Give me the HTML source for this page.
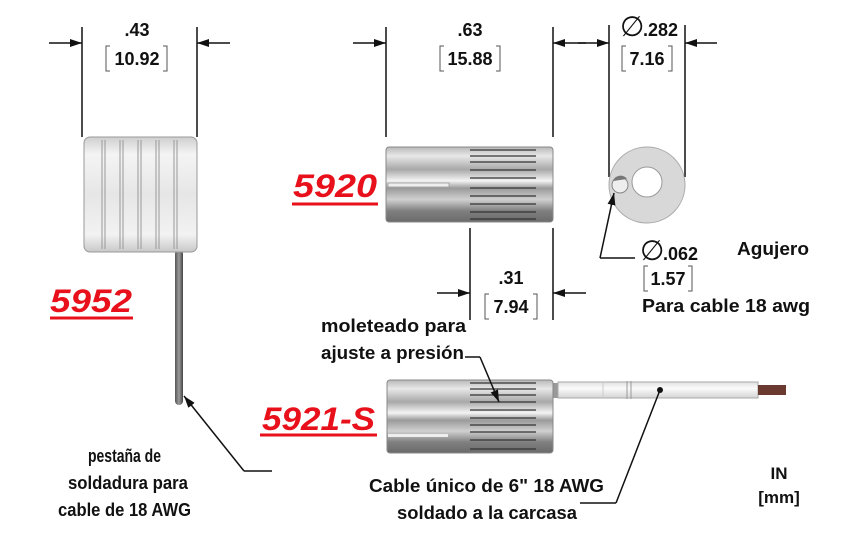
<!DOCTYPE html>
<html><head><meta charset="utf-8"><style>
html,body{margin:0;padding:0;background:#fff;}
svg{display:block;}
text{font-family:"Liberation Sans",sans-serif;font-weight:bold;fill:#111;}
.red{fill:#e8101a;font-style:italic;font-size:32px;}
</style></head><body>
<svg width="842" height="538" viewBox="0 0 842 538" xmlns="http://www.w3.org/2000/svg">
<defs>
<marker id="ar" markerWidth="12" markerHeight="8" refX="12" refY="4" orient="auto" markerUnits="userSpaceOnUse"><path d="M0,0 L12,4 L0,8 z" fill="#111"/></marker>
<linearGradient id="rib" x1="0" y1="0" x2="0" y2="1">
<stop offset="0" stop-color="#cfcfcf"/><stop offset="0.15" stop-color="#f4f4f4"/><stop offset="0.5" stop-color="#e6e6e6"/><stop offset="0.85" stop-color="#f2f2f2"/><stop offset="1" stop-color="#c8c8c8"/></linearGradient>
<linearGradient id="cyl" x1="0" y1="0" x2="0" y2="1">
<stop offset="0" stop-color="#b8b8b8"/><stop offset="0.12" stop-color="#e8e8e8"/><stop offset="0.3" stop-color="#a8a8a8"/><stop offset="0.45" stop-color="#f4f4f4"/><stop offset="0.55" stop-color="#9a9a9a"/><stop offset="0.7" stop-color="#d0d0d0"/><stop offset="0.85" stop-color="#808080"/><stop offset="1" stop-color="#6a6a6a"/></linearGradient>
<linearGradient id="wire" x1="0" y1="0" x2="0" y2="1">
<stop offset="0" stop-color="#e0e0e0"/><stop offset="0.4" stop-color="#fbfbfb"/><stop offset="1" stop-color="#d4d4d4"/></linearGradient>
<linearGradient id="tab" x1="0" y1="0" x2="1" y2="0">
<stop offset="0" stop-color="#555"/><stop offset="0.5" stop-color="#9a9a9a"/><stop offset="1" stop-color="#444"/></linearGradient>
</defs>

<!-- 5952 dims -->
<line x1="82" y1="27" x2="82" y2="137" stroke="#111" stroke-width="1.5"/>
<line x1="197" y1="27" x2="197" y2="137" stroke="#111" stroke-width="1.5"/>
<line x1="49" y1="43" x2="82" y2="43" stroke="#111" stroke-width="1.5" marker-end="url(#ar)"/>
<line x1="230" y1="43" x2="197" y2="43" stroke="#111" stroke-width="1.5" marker-end="url(#ar)"/>
<text x="137" y="36" font-size="18" text-anchor="middle">.43</text>
<text x="137" y="65" font-size="18" text-anchor="middle">10.92</text>
<path d="M110,46 h-4 v25 h4 M163,46 h4 v25 h-4" fill="none" stroke="#555" stroke-width="1"/>

<!-- 5952 body -->
<rect x="175" y="250" width="8" height="155" rx="4" fill="url(#tab)"/>
<g stroke="#999" stroke-width="1">
<rect x="84" y="137" width="113" height="115" rx="6" fill="url(#rib)"/>
<line x1="102" y1="140" x2="102" y2="249"/><line x1="105" y1="140" x2="105" y2="249"/>
<line x1="120" y1="140" x2="120" y2="249"/><line x1="123" y1="140" x2="123" y2="249"/>
<line x1="138" y1="140" x2="138" y2="249"/><line x1="141" y1="140" x2="141" y2="249"/>
<line x1="156" y1="140" x2="156" y2="249"/><line x1="159" y1="140" x2="159" y2="249"/>
<line x1="174" y1="140" x2="174" y2="249"/><line x1="177" y1="140" x2="177" y2="249"/>
</g>
<text class="red" x="50" y="312" textLength="82" lengthAdjust="spacingAndGlyphs">5952</text>
<line x1="50" y1="318" x2="133" y2="318" stroke="#e8101a" stroke-width="3"/>
<line x1="272" y1="471" x2="244" y2="471" stroke="#111" stroke-width="1.5"/>
<line x1="244" y1="471" x2="184" y2="396" stroke="#111" stroke-width="1.5" marker-end="url(#ar)"/>
<text x="88" y="462" font-size="18" textLength="73" lengthAdjust="spacingAndGlyphs">pestaña de</text>
<text x="68" y="489" font-size="18" textLength="120" lengthAdjust="spacingAndGlyphs">soldadura para</text>
<text x="58" y="516" font-size="18" textLength="133" lengthAdjust="spacingAndGlyphs">cable de 18 AWG</text>

<!-- 5920 -->
<line x1="386" y1="27" x2="386" y2="137" stroke="#111" stroke-width="1.5"/>
<line x1="553" y1="27" x2="553" y2="137" stroke="#111" stroke-width="1.5"/>
<line x1="353" y1="43" x2="386" y2="43" stroke="#111" stroke-width="1.5" marker-end="url(#ar)"/>
<line x1="586" y1="43" x2="553" y2="43" stroke="#111" stroke-width="1.5" marker-end="url(#ar)"/>
<text x="470" y="36" font-size="18" text-anchor="middle">.63</text>
<text x="470" y="65" font-size="18" text-anchor="middle">15.88</text>
<path d="M444,46 h-4 v25 h4 M496,46 h4 v25 h-4" fill="none" stroke="#555" stroke-width="1"/>
<rect x="386" y="147" width="167" height="75" rx="3" fill="url(#cyl)" stroke="#888"/>
<g stroke="#333" stroke-width="1.3">
<line x1="470" y1="150" x2="536" y2="150"/><line x1="470" y1="156" x2="536" y2="156"/><line x1="470" y1="162" x2="536" y2="162"/><line x1="470" y1="170" x2="536" y2="170"/><line x1="470" y1="178" x2="536" y2="178"/><line x1="470" y1="188" x2="536" y2="188"/><line x1="470" y1="196" x2="536" y2="196"/><line x1="470" y1="204" x2="536" y2="204"/><line x1="470" y1="212" x2="536" y2="212"/><line x1="470" y1="219" x2="536" y2="219"/>
</g>
<rect x="388" y="183" width="61" height="4" fill="#eee" stroke="#999" stroke-width="0.8"/>
<text class="red" x="293" y="197" textLength="84" lengthAdjust="spacingAndGlyphs">5920</text>
<line x1="292" y1="204" x2="378" y2="204" stroke="#e8101a" stroke-width="3"/>
<line x1="470" y1="228" x2="470" y2="320" stroke="#111" stroke-width="1.5"/>
<line x1="553" y1="228" x2="553" y2="320" stroke="#111" stroke-width="1.5"/>
<line x1="437" y1="293" x2="470" y2="293" stroke="#111" stroke-width="1.5" marker-end="url(#ar)"/>
<line x1="586" y1="293" x2="553" y2="293" stroke="#111" stroke-width="1.5" marker-end="url(#ar)"/>
<text x="511" y="284" font-size="18" text-anchor="middle">.31</text>
<text x="511" y="313" font-size="18" text-anchor="middle">7.94</text>
<path d="M489,294 h-4 v25 h4 M533,294 h4 v25 h-4" fill="none" stroke="#555" stroke-width="1"/>

<!-- washer -->
<line x1="609" y1="25" x2="609" y2="177" stroke="#111" stroke-width="1.5"/>
<line x1="685" y1="25" x2="685" y2="177" stroke="#111" stroke-width="1.5"/>
<line x1="578" y1="43" x2="609" y2="43" stroke="#111" stroke-width="1.5" marker-end="url(#ar)"/>
<line x1="717" y1="43" x2="685" y2="43" stroke="#111" stroke-width="1.5" marker-end="url(#ar)"/>
<text x="620" y="36" font-size="28" style="font-weight:normal">∅</text>
<text x="643" y="36" font-size="18">.282</text>
<text x="647" y="65" font-size="18" text-anchor="middle">7.16</text>
<path d="M626,46 h-4 v25 h4 M668,46 h4 v25 h-4" fill="none" stroke="#555" stroke-width="1"/>
<circle cx="647" cy="185" r="38" fill="#d8d8d8" stroke="#aaa"/>
<circle cx="647" cy="182" r="15" fill="#fff" stroke="#999"/>
<circle cx="620" cy="185" r="8" fill="#eee" stroke="#888"/>
<path d="M613,181 a8,8 0 0 1 14,-2 z" fill="#777"/>
<line x1="635" y1="258" x2="600" y2="258" stroke="#111" stroke-width="1.5"/>
<line x1="600" y1="258" x2="614" y2="193" stroke="#111" stroke-width="1.5" marker-end="url(#ar)"/>
<text x="640" y="260" font-size="28" style="font-weight:normal">∅</text>
<text x="663" y="260" font-size="18">.062</text>
<text x="668" y="285" font-size="18" text-anchor="middle">1.57</text>
<path d="M648,266 h-4 v25 h4 M688,266 h4 v25 h-4" fill="none" stroke="#555" stroke-width="1"/>
<text x="737" y="255" font-size="18" textLength="72" lengthAdjust="spacingAndGlyphs">Agujero</text>
<text x="642" y="312" font-size="18" textLength="168" lengthAdjust="spacingAndGlyphs">Para cable 18 awg</text>

<!-- 5921-S -->
<rect x="552" y="383" width="6" height="15" fill="#999"/>
<rect x="558" y="382" width="200" height="16" fill="url(#wire)" stroke="#aaa"/>
<line x1="603" y1="382" x2="603" y2="398" stroke="#ccc"/>
<line x1="627" y1="381" x2="627" y2="399" stroke="#999"/>
<line x1="631" y1="381" x2="631" y2="399" stroke="#999"/>
<rect x="758" y="385" width="28" height="10" fill="#6a3a30"/>
<rect x="387" y="380" width="166" height="73" rx="3" fill="url(#cyl)" stroke="#888"/>
<g stroke="#333" stroke-width="1.3">
<line x1="470" y1="383" x2="536" y2="383"/><line x1="470" y1="389" x2="536" y2="389"/><line x1="470" y1="395" x2="536" y2="395"/><line x1="470" y1="402" x2="536" y2="402"/><line x1="470" y1="410" x2="536" y2="410"/><line x1="470" y1="418" x2="536" y2="418"/><line x1="470" y1="425" x2="536" y2="425"/><line x1="470" y1="432" x2="536" y2="432"/><line x1="470" y1="440" x2="536" y2="440"/><line x1="470" y1="449" x2="536" y2="449"/>
</g>
<rect x="388" y="434" width="60" height="3" fill="#eee"/>
<text class="red" x="262" y="430" textLength="113" lengthAdjust="spacingAndGlyphs">5921-S</text>
<line x1="260" y1="435" x2="377" y2="435" stroke="#e8101a" stroke-width="3"/>
<text x="321" y="332" font-size="18" textLength="145" lengthAdjust="spacingAndGlyphs">moleteado para</text>
<text x="321" y="359" font-size="18" textLength="143" lengthAdjust="spacingAndGlyphs">ajuste a presión</text>
<line x1="465" y1="357" x2="480" y2="357" stroke="#111" stroke-width="1.5"/>
<line x1="480" y1="357" x2="499" y2="402" stroke="#111" stroke-width="1.5" marker-end="url(#ar)"/>
<circle cx="660" cy="390" r="3" fill="#111"/>
<line x1="660" y1="390" x2="616" y2="503" stroke="#111" stroke-width="1.5"/>
<line x1="616" y1="503" x2="580" y2="503" stroke="#111" stroke-width="1.5"/>
<text x="369" y="492" font-size="18" textLength="235" lengthAdjust="spacingAndGlyphs">Cable único de 6" 18 AWG</text>
<text x="397" y="519" font-size="18" textLength="180" lengthAdjust="spacingAndGlyphs">soldado a la carcasa</text>
<text x="779" y="479" font-size="17" text-anchor="middle">IN</text>
<text x="779" y="503" font-size="17" text-anchor="middle">[mm]</text>
</svg>
</body></html>
